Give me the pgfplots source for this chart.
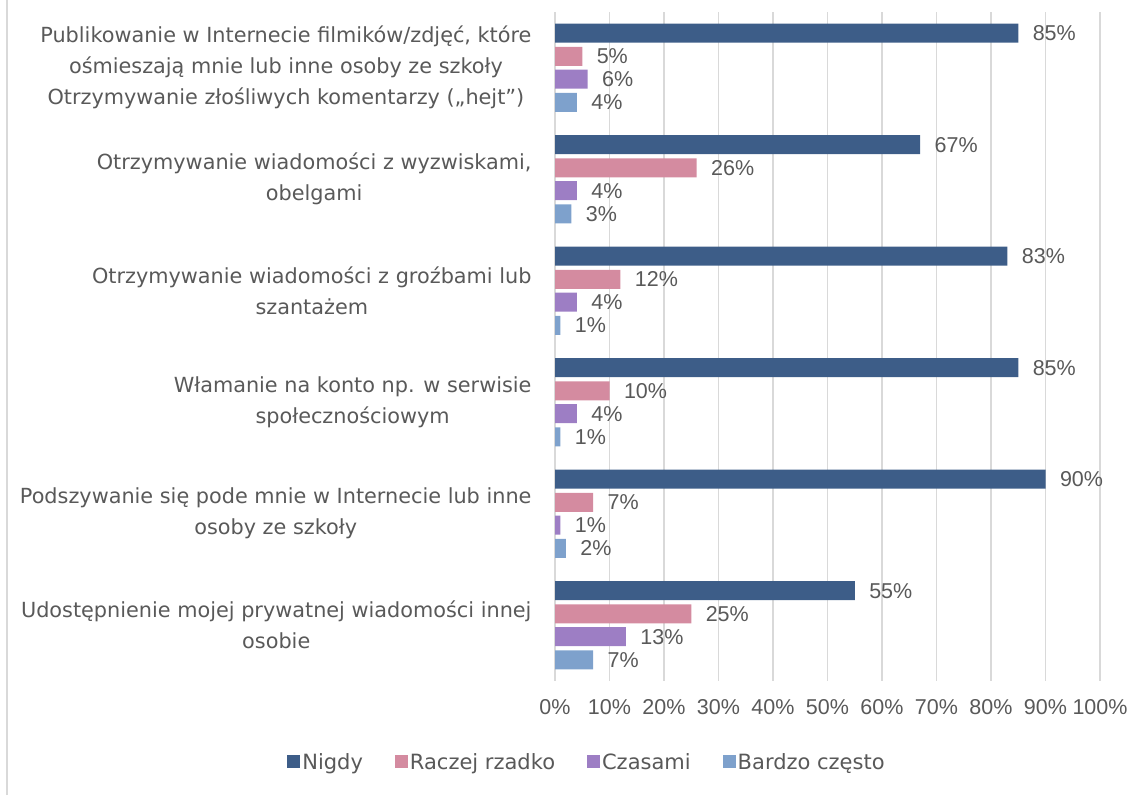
\documentclass[border=0pt]{standalone}
\usepackage{pgfplots}
\pgfplotsset{compat=1.18}
\usepackage{fontspec}
\setmainfont{Liberation Sans}
\newfontfamily\labfont{DejaVu Sans}
\definecolor{cNig}{HTML}{3D5D88}
\definecolor{cRac}{HTML}{D48BA0}
\definecolor{cCza}{HTML}{9D7EC4}
\definecolor{cBar}{HTML}{7EA1CC}
\definecolor{txt}{HTML}{595959}
\definecolor{grd}{HTML}{D9D9D9}
\begin{document}
\begin{tikzpicture}[x=1pt,y=1pt]
\useasboundingbox (0,0) rectangle (1147,795);
\draw[grd,line width=1.5pt] (7,0) -- (7,795);
\begin{axis}[
  at={(555pt,114pt)}, anchor=south west,
  scale only axis, width=545pt, height=669pt,
  xmin=0, xmax=100, ymin=-0.5, ymax=5.5, y dir=reverse,
  xbar, bar width=19pt, bar shift=0pt,
  axis line style={draw=none},
  xmajorgrids, major grid style={grd, line width=1.2pt},
  xtick={0,10,...,100}, major tick length=0pt,
  /pgf/number format/assume math mode=true,
  xticklabel={\pgfmathprintnumber{\tick}\%},
  xticklabel style={font=\fontsize{21.5}{25}\selectfont, text=txt, yshift=-15pt},
  ytick={0,1,2,3,4,5},
  yticklabels={
    {Publikowanie w Internecie filmików/zdjęć, które\\ośmieszają mnie lub inne osoby ze szkoły\\Otrzymywanie złośliwych komentarzy („hejt”)},
    {Otrzymywanie wiadomości z wyzwiskami,\\obelgami},
    {Otrzymywanie wiadomości z groźbami lub\\szantażem},
    {Włamanie na konto np. w serwisie\\społecznościowym},
    {Podszywanie się pode mnie w Internecie lub inne\\osoby ze szkoły},
    {Udostępnienie mojej prywatnej wiadomości innej\\osobie}},
  yticklabel style={font=\labfont\fontsize{20.8}{31}\selectfont, text=txt, align=center, xshift=-20pt},
  point meta=x,
  nodes near coords={\pgfmathprintnumber{\pgfplotspointmeta}\%},
  nodes near coords style={font=\fontsize{21.5}{25}\selectfont, text=txt, anchor=west, xshift=11pt},
  legend columns=4,
  legend style={draw=none, at={(rel axis cs:0.0587,-0.121)}, anchor=center,
    font=\labfont\fontsize{21}{25}\selectfont, text=txt,
    /tikz/every even column/.append style={column sep=30pt}},
  legend image code/.code={\fill[#1] (0pt,-6pt) rectangle (13pt,7pt);},
]
\addplot[fill=cNig, draw=none] coordinates {(85,-0.31) (67,0.69) (83,1.69) (85,2.69) (90,3.69) (55,4.69)};
\addplot[fill=cRac, draw=none] coordinates {(5,-0.103) (26,0.897) (12,1.897) (10,2.897) (7,3.897) (25,4.897)};
\addplot[fill=cCza, draw=none] coordinates {(6,0.103) (4,1.103) (4,2.103) (4,3.103) (1,4.103) (13,5.103)};
\addplot[fill=cBar, draw=none] coordinates {(4,0.31) (3,1.31) (1,2.31) (1,3.31) (2,4.31) (7,5.31)};
\legend{Nigdy, Raczej rzadko, Czasami, Bardzo często}
\end{axis}
\end{tikzpicture}
\end{document}
